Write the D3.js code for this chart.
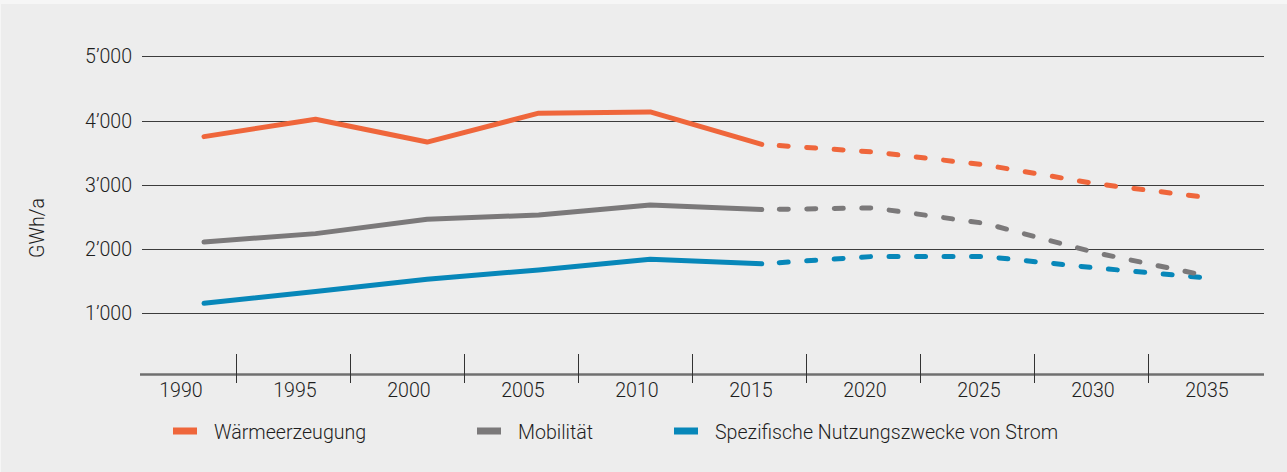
<!doctype html>
<html lang="de">
<head>
<meta charset="utf-8">
<title>Energieverbrauch nach Verwendungszweck</title>
<script src="https://cdn.jsdelivr.net/npm/d3@7"></script>
<style>
  html, body { margin: 0; padding: 0; background: #f6f6f6; }
  svg { display: block; font-family: Roboto, "Liberation Sans", sans-serif; font-weight: 300; }
  text { fill: #1e1e1e; }
</style>
</head>
<body>
<svg id="chart" width="1287" height="472"></svg>
<script>
// category labels on the axis
const periods = ["1990", "1995", "2000", "2005", "2010", "2015", "2020", "2025", "2030", "2035"];
const yTicks = [1000, 2000, 3000, 4000, 5000];

// measured values (solid, up to 2015)
const histYears = [1990, 1995, 2000, 2005, 2010, 2015];
const waermeHist = [3750, 4020, 3665, 4115, 4135, 3630];
const mobilHist = [2110, 2240, 2465, 2530, 2685, 2615];
const stromHist = [1155, 1340, 1530, 1675, 1840, 1770];

// outlook (dashed, from 2015)
const progYears = [2015, 2020, 2025, 2030, 2035];
const waermeProg = [3630, 3510, 3310, 3015, 2800];
const mobilProg = [2615, 2640, 2400, 1940, 1580];
const stromProg = [1770, 1885, 1885, 1705, 1550];

const series = [
  { name: "Wärmeerzeugung", color: "#ef663b", hist: waermeHist, prog: waermeProg },
  { name: "Mobilität", color: "#7b797a", hist: mobilHist, prog: mobilProg },
  { name: "Spezifische Nutzungszwecke von Strom", color: "#0787b9", hist: stromHist, prog: stromProg }
];

const svg = d3.select("#chart");
const W = 1287, H = 472;
const FS = 19.6;

svg.append("rect").attr("x", 1).attr("y", 4).attr("width", W - 1).attr("height", H - 4)
  .attr("fill", "#ededed");

const gridLeft = 142, gridRight = 1264, axisY = 374.5;
const y = d3.scaleLinear().domain([1000, 5000]).range([313.3, 56.3]);
const x = d3.scaleLinear().domain([1990, 2035]).range([204, 1208]);
const band = d3.scaleBand().domain(periods).range([122, 1262]).padding(0);

// gridlines
svg.append("g").selectAll("line").data(yTicks).join("line")
  .attr("x1", gridLeft).attr("x2", gridRight)
  .attr("y1", d => Math.round(y(d)) + 0.5).attr("y2", d => Math.round(y(d)) + 0.5)
  .attr("stroke", "#3c3c3c").attr("stroke-width", 1);

// y tick labels
const fmt = d => d3.format(",")(d).replace(",", "\u2019");
svg.append("g").selectAll("text").data(yTicks).join("text")
  .attr("x", 132).attr("y", d => y(d) + 7)
  .attr("text-anchor", "end").attr("font-size", FS)
  .text(fmt);

svg.append("text")
  .attr("transform", "translate(44,228) rotate(-90)")
  .attr("text-anchor", "middle").attr("font-size", FS)
  .text("GWh/a");

// x axis (categorical bands with separators)
svg.append("line").attr("x1", 140).attr("x2", gridRight)
  .attr("y1", axisY).attr("y2", axisY)
  .attr("stroke", "#6f6f6f").attr("stroke-width", 2.5);

svg.append("g").selectAll("line").data(periods.slice(1)).join("line")
  .attr("x1", d => Math.round(band(d)) + 0.5).attr("x2", d => Math.round(band(d)) + 0.5)
  .attr("y1", 354).attr("y2", 383)
  .attr("stroke", "#333").attr("stroke-width", 1);

svg.append("g").selectAll("text").data(periods).join("text")
  .attr("x", d => band(d) + band.bandwidth() / 2 + 2)
  .attr("y", 397).attr("text-anchor", "middle").attr("font-size", FS)
  .text(d => d);

// lines
const line = d3.line().x(d => x(d[0])).y(d => y(d[1]));
const lines = svg.append("g").attr("fill", "none").attr("stroke-width", 5)
  .attr("stroke-linecap", "round").attr("stroke-linejoin", "round");

series.slice().reverse().forEach(s => {
  lines.append("path")
    .attr("d", line(progYears.map((yr, i) => [yr, s.prog[i]])))
    .attr("stroke", s.color)
    .attr("stroke-dasharray", "9 18.5")
    .attr("stroke-dashoffset", 10);
  lines.append("path")
    .attr("d", line(histYears.map((yr, i) => [yr, s.hist[i]])))
    .attr("stroke", s.color);
});

// legend
const legendX = [173, 477, 674];
const lg = svg.append("g").selectAll("g").data(series).join("g")
  .attr("transform", (d, i) => `translate(${legendX[i]},431)`);
lg.append("rect").attr("x", 0).attr("y", -3.5).attr("width", 24).attr("height", 7)
  .attr("fill", d => d.color);
lg.append("text").attr("x", 41).attr("y", 7.5).attr("font-size", FS)
  .text(d => d.name);
</script>
</body>
</html>
